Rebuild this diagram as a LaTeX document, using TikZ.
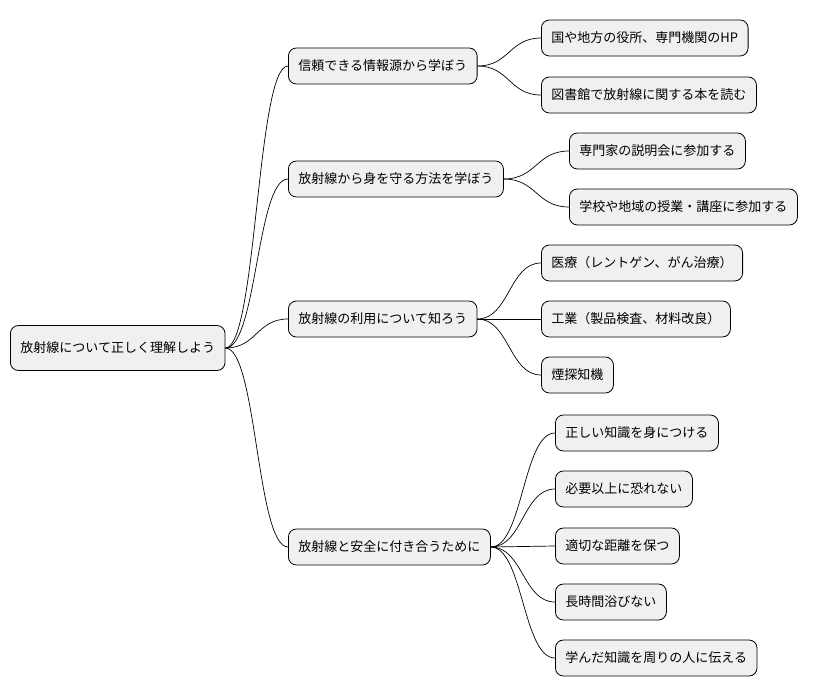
\documentclass[tikz,border=0pt]{standalone}
\usepackage{fontspec}
\usetikzlibrary{calc}
\setmainfont{Noto Sans CJK JP}
\begin{document}
\begin{tikzpicture}[x=1pt,y=-1pt,
 box/.style={draw=black,line width=0.8pt,fill=black!6,rounded corners=8pt,minimum height=36pt,inner xsep=10pt,anchor=west,font=\fontsize{13}{15}\selectfont},
 link/.style={line width=0.7pt}]
\useasboundingbox (0,0) rectangle (824,696);
\node[box,minimum height=45pt] (r) at (10,348) {放射線について正しく理解しよう};
\node[box] (a) at (288,66) {信頼できる情報源から学ぼう};
\node[box] (b) at (288,179) {放射線から身を守る方法を学ぼう};
\node[box] (c) at (288,319) {放射線の利用について知ろう};
\node[box] (d) at (288,547) {放射線と安全に付き合うために};
\node[box] (a1) at (541,38) {国や地方の役所、専門機関のHP};
\node[box] (a2) at (541,95) {図書館で放射線に関する本を読む};
\node[box] (b1) at (569,151) {専門家の説明会に参加する};
\node[box] (b2) at (569,207) {学校や地域の授業・講座に参加する};
\node[box] (c1) at (541,263) {医療（レントゲン、がん治療）};
\node[box] (c2) at (541,319) {工業（製品検査、材料改良）};
\node[box] (c3) at (541,375) {煙探知機};
\node[box] (d1) at (555,433) {正しい知識を身につける};
\node[box] (d2) at (555,489) {必要以上に恐れない};
\node[box] (d3) at (555,546) {適切な距離を保つ};
\node[box] (d4) at (555,602) {長時間浴びない};
\node[box] (d5) at (555,658) {学んだ知識を周りの人に伝える};
\foreach \p/\c in {r/a,r/b,r/c,r/d,a/a1,a/a2,b/b1,b/b2,c/c1,c/c2,c/c3,d/d1,d/d2,d/d3,d/d4,d/d5}{
 \coordinate (m) at ($(\p.east)!0.5!(\c.west)$);
 \draw[link] (\p.east) .. controls (m |- \p.east) and (m |- \c.west) .. (\c.west);
}
\end{tikzpicture}
\end{document}
